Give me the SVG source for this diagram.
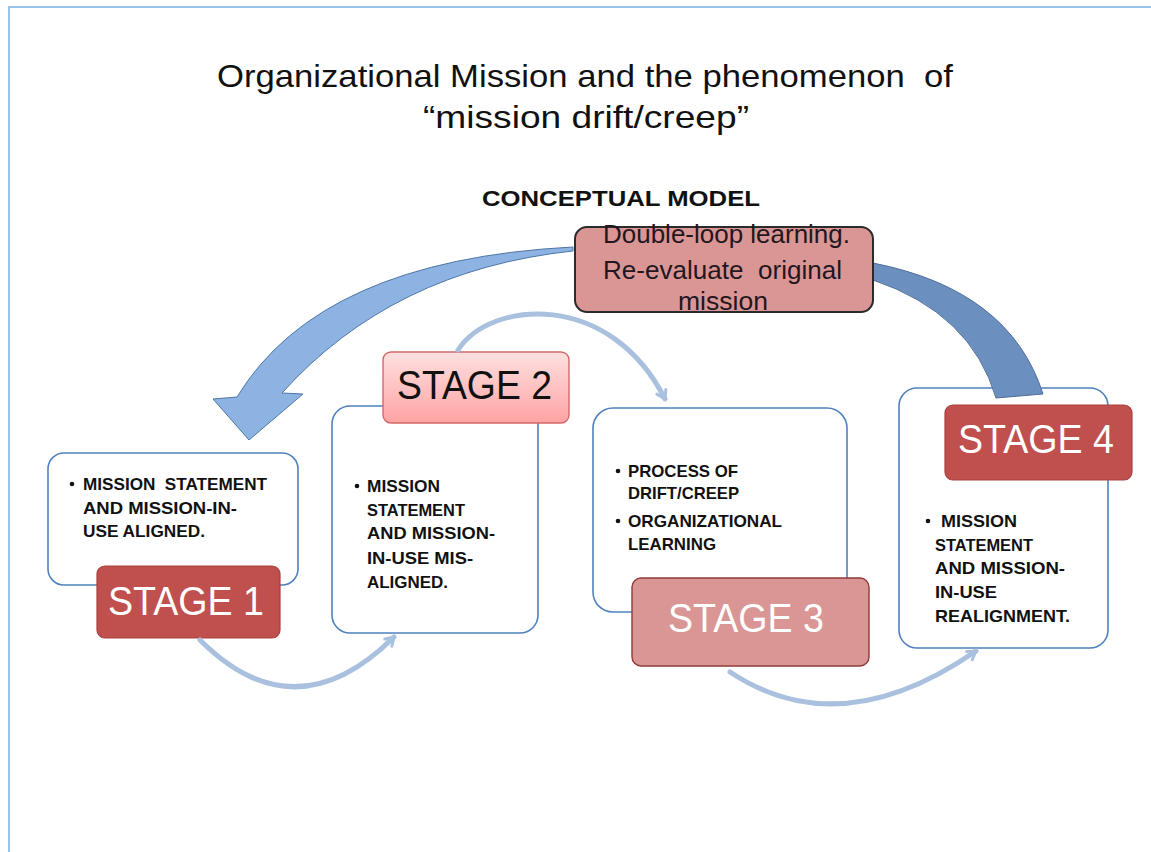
<svg xmlns="http://www.w3.org/2000/svg" width="1151" height="852" viewBox="0 0 1151 852">
  <defs>
    <style>
      .title { font-family: "Liberation Sans", Arial, sans-serif; font-size: 32px; fill: #111111; white-space: pre; }
      .subhead { font-family: "Liberation Sans", Arial, sans-serif; font-size: 22px; font-weight: bold; fill: #111111; }
      .card { fill: #ffffff; stroke: #4f81bd; stroke-width: 1.6; }
      .body { font-family: "Liberation Sans", Arial, sans-serif; font-size: 17px; font-weight: bold; fill: #111111; white-space: pre; }
      .bullet { fill: #111111; }
      .stage { font-family: "Liberation Sans", Arial, sans-serif; font-size: 41px; }
      .stage-dark { fill: #c0504d; stroke: #a9403d; stroke-width: 1.2; }
      .stage-soft { fill: #d99694; stroke: #8e3b39; stroke-width: 1.4; }
      .stage-light { fill: url(#pinkGrad); stroke: #d46a68; stroke-width: 1.4; }
      .loop-text { font-family: "Liberation Sans", Arial, sans-serif; font-size: 25px; fill: #24161f; white-space: pre; }
      .cycle { fill: none; stroke: #a9c0de; stroke-width: 5; stroke-linecap: round; }
    </style>
    <linearGradient id="pinkGrad" x1="0" y1="0" x2="0" y2="1">
      <stop offset="0" stop-color="#ffe0e0"/>
      <stop offset="1" stop-color="#ffa3a3"/>
    </linearGradient>
    <marker id="chev" markerUnits="userSpaceOnUse" markerWidth="20" markerHeight="20" viewBox="-12 -10 16 20" refX="0" refY="0" orient="auto">
      <path d="M-8,-5 L0,0 L-8,5" fill="none" stroke="#a9c0de" stroke-width="3" stroke-linecap="round" stroke-linejoin="round"/>
    </marker>
  </defs>

  <rect width="1151" height="852" fill="#ffffff"/>

  <!-- page frame -->
  <path d="M9,852 L9,7 L1151,7" fill="none" stroke="#9cc3f0" stroke-width="2"/>

  <!-- headings -->
  <g id="title">
    <text class="title" x="217" y="87" textLength="736" lengthAdjust="spacingAndGlyphs" xml:space="preserve">Organizational Mission and the phenomenon  of</text>
    <text class="title" x="423" y="128" textLength="326" lengthAdjust="spacingAndGlyphs">“mission drift/creep”</text>
    <text class="subhead" x="482" y="206" textLength="278" lengthAdjust="spacingAndGlyphs">CONCEPTUAL MODEL</text>
  </g>

  <!-- stage 1 -->
  <g id="stage1">
    <rect class="card" x="48" y="453" width="250" height="132" rx="16"/>
    <circle class="bullet" cx="72" cy="484" r="2.3"/>
    <text class="body" x="83" y="490" textLength="184" lengthAdjust="spacingAndGlyphs" xml:space="preserve">MISSION  STATEMENT</text>
    <text class="body" x="83" y="514" textLength="154" lengthAdjust="spacingAndGlyphs">AND MISSION-IN-</text>
    <text class="body" x="83" y="537" textLength="122" lengthAdjust="spacingAndGlyphs">USE ALIGNED.</text>
    <rect class="stage-dark" x="97" y="566" width="183" height="72" rx="8"/>
    <text class="stage" x="108" y="615" fill="#ffffff" textLength="156" lengthAdjust="spacingAndGlyphs">STAGE 1</text>
  </g>

  <!-- stage 2 -->
  <g id="stage2">
    <rect class="card" x="332" y="406" width="206" height="227" rx="18"/>
    <circle class="bullet" cx="357" cy="486" r="2.3"/>
    <text class="body" x="367" y="492" textLength="73" lengthAdjust="spacingAndGlyphs">MISSION</text>
    <text class="body" x="367" y="516" textLength="98" lengthAdjust="spacingAndGlyphs">STATEMENT</text>
    <text class="body" x="367" y="539" textLength="128" lengthAdjust="spacingAndGlyphs">AND MISSION-</text>
    <text class="body" x="367" y="564" textLength="106" lengthAdjust="spacingAndGlyphs">IN-USE MIS-</text>
    <text class="body" x="367" y="588" textLength="81" lengthAdjust="spacingAndGlyphs">ALIGNED.</text>
    <rect class="stage-light" x="383" y="352" width="186" height="71" rx="8"/>
    <text class="stage" x="397" y="399" fill="#111111" textLength="155" lengthAdjust="spacingAndGlyphs">STAGE 2</text>
  </g>

  <!-- stage 3 -->
  <g id="stage3">
    <rect class="card" x="593" y="408" width="254" height="204" rx="20"/>
    <circle class="bullet" cx="618" cy="471" r="2.3"/>
    <text class="body" x="628" y="477" textLength="110" lengthAdjust="spacingAndGlyphs">PROCESS OF</text>
    <text class="body" x="628" y="499" textLength="111" lengthAdjust="spacingAndGlyphs">DRIFT/CREEP</text>
    <circle class="bullet" cx="618" cy="521" r="2.3"/>
    <text class="body" x="628" y="527" textLength="154" lengthAdjust="spacingAndGlyphs">ORGANIZATIONAL</text>
    <text class="body" x="628" y="550" textLength="88" lengthAdjust="spacingAndGlyphs">LEARNING</text>
    <rect class="stage-soft" x="632" y="578" width="237" height="88" rx="9"/>
    <text class="stage" x="668" y="632" fill="#ffffff" textLength="156" lengthAdjust="spacingAndGlyphs">STAGE 3</text>
  </g>

  <!-- stage 4 -->
  <g id="stage4">
    <rect class="card" x="899" y="388" width="209" height="260" rx="18"/>
    <circle class="bullet" cx="928" cy="521" r="2.3"/>
    <text class="body" x="941" y="527" textLength="76" lengthAdjust="spacingAndGlyphs">MISSION</text>
    <text class="body" x="935" y="551" textLength="98" lengthAdjust="spacingAndGlyphs">STATEMENT</text>
    <text class="body" x="935" y="574" textLength="130" lengthAdjust="spacingAndGlyphs">AND MISSION-</text>
    <text class="body" x="935" y="598" textLength="62" lengthAdjust="spacingAndGlyphs">IN-USE</text>
    <text class="body" x="935" y="622" textLength="135" lengthAdjust="spacingAndGlyphs">REALIGNMENT.</text>
    <rect class="stage-dark" x="945" y="405" width="187" height="75" rx="8"/>
    <text class="stage" x="958" y="453" fill="#ffffff" textLength="156" lengthAdjust="spacingAndGlyphs">STAGE 4</text>
  </g>

  <!-- connectors -->
  <g id="connectors">
    <!-- double-loop feedback back to stage 1 -->
    <path d="M573,247 Q320,260 237,397 L213,399 L249,440 L303,394 L282,393 Q392.5,270 573,251 Z" fill="#8db3e2" stroke="#4f76a8" stroke-width="1"/>
    <!-- double-loop feed into stage 4 -->
    <path d="M873,263 Q1010,290 1043,394 L996,398 Q971,313 873,280 Z" fill="#6b8fbf" stroke="#4f6f9a" stroke-width="1"/>
    <!-- cycle arcs between stages -->
    <path class="cycle" d="M200,640 Q295,735 394,637" marker-end="url(#chev)"/>
    <path class="cycle" d="M458,350 C490,300 610,290 665,399" marker-end="url(#chev)"/>
    <path class="cycle" d="M730,672 Q840,745 976,651" marker-end="url(#chev)"/>
  </g>

  <!-- double-loop learning callout -->
  <g id="double-loop">
    <rect x="575" y="227" width="298" height="85" rx="12" fill="#d99694" stroke="#2b2b2b" stroke-width="2"/>
    <text class="loop-text" x="603" y="243" textLength="247" lengthAdjust="spacingAndGlyphs">Double-loop learning.</text>
    <text class="loop-text" x="603" y="279" textLength="239" lengthAdjust="spacingAndGlyphs" xml:space="preserve">Re-evaluate  original</text>
    <text class="loop-text" x="678" y="310" textLength="90" lengthAdjust="spacingAndGlyphs">mission</text>
  </g>
</svg>
